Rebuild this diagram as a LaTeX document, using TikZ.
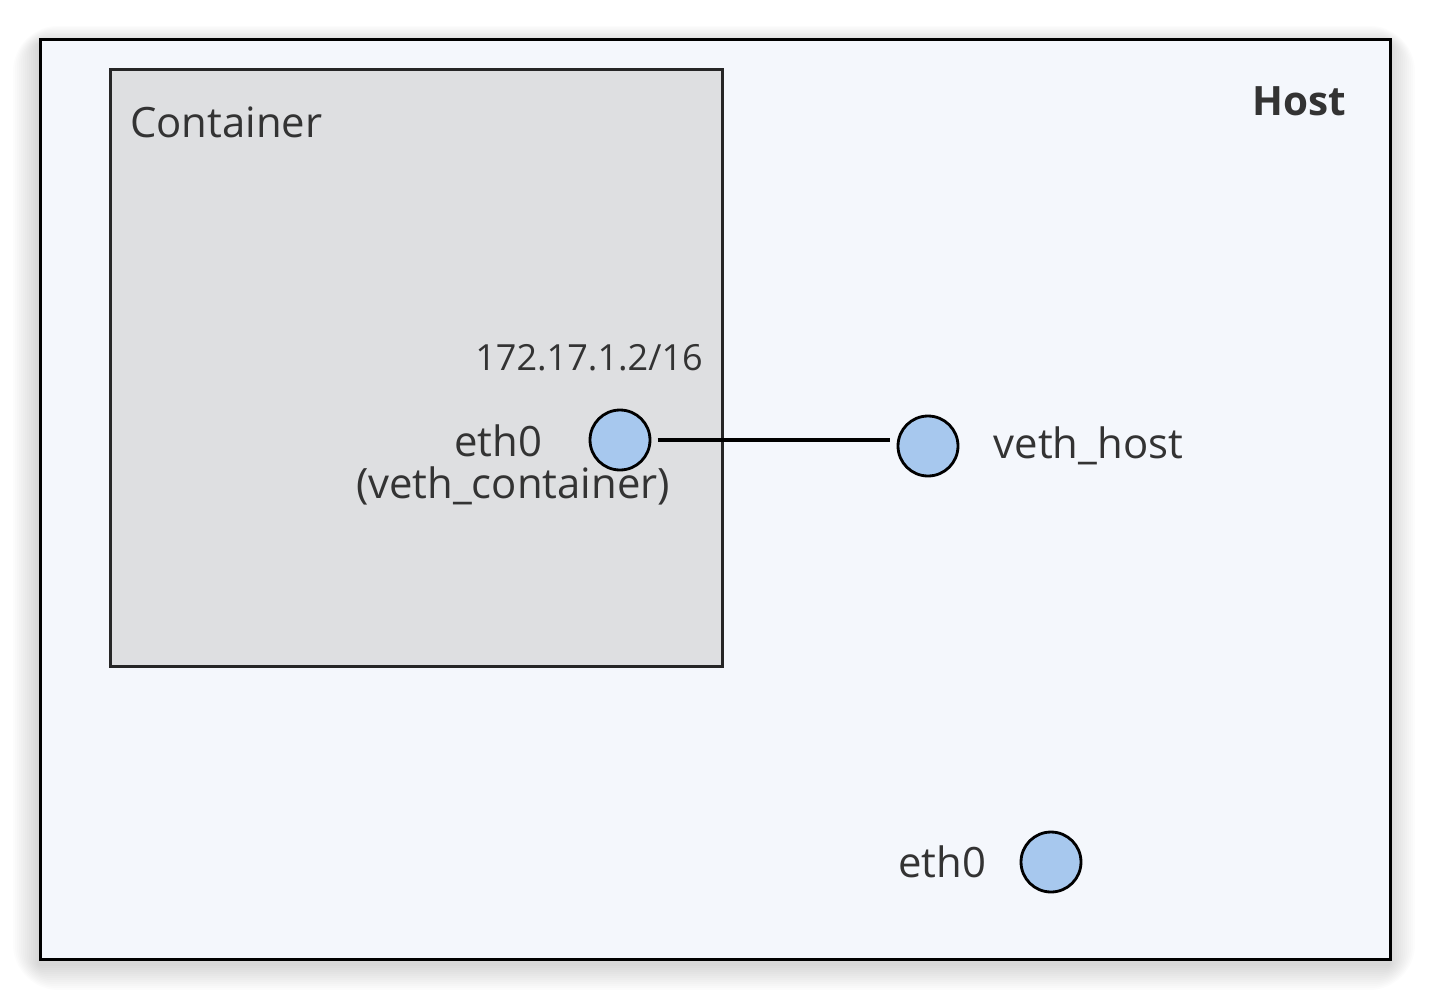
\documentclass[tikz,border=0pt]{standalone}
\usepackage{fontspec}
\setmainfont{Open Sans}
\usepackage{tikz}
\usetikzlibrary{positioning,calc}
\definecolor{cHost}{HTML}{F4F7FC}
\definecolor{cCont}{HTML}{DEDFE1}
\definecolor{cPort}{HTML}{A7C8EE}
\definecolor{cInk}{HTML}{333333}
\tikzset{
  hostbox/.style={draw=black,fill=cHost,line width=1.6pt,anchor=north west,minimum width=27cm,minimum height=18.4cm,inner sep=0pt},
  contbox/.style={draw=black!85,fill=cCont,line width=1.5pt,anchor=north west,minimum width=12.24cm,minimum height=11.94cm,inner sep=0pt},
  port/.style={circle,draw=black,fill=cPort,line width=1.6pt,minimum size=1.2cm,inner sep=0pt},
  link/.style={line width=2.2pt,shorten <=3.5pt,shorten >=3.5pt},
  lbl/.style={font=\fontsize{23.8}{28}\selectfont,text=cInk,inner sep=0pt,align=center},
  title/.style={font=\fontsize{23.8}{28}\selectfont,text=cInk,inner sep=0pt},
}
\begin{document}
\begin{tikzpicture}[x=0.02cm,y=-0.02cm]
  \fill[white] (0,0) rectangle (1430,998);
  % soft shadow round the host frame
  \coordinate (hnw) at (39,38);
  \coordinate (hse) at (1389,958);
  \foreach \s in {2,4,...,26}
    \fill[black,opacity=0.012,rounded corners=\s] ($(hnw)+(-\s,-0.7*\s+6)$) rectangle ($(hse)+(\s,\s+6)$);
  \node[hostbox] (host) at (hnw) {};
  \node[title,font=\fontsize{23}{27}\selectfont\bfseries,anchor=east] (hostlbl) at (1346,101) {Host};
  % container
  \node[contbox] (cont) at (109,68) {};
  \node[title,anchor=west] (contlbl) at (130,122) {Container};
  % ports
  \node[port] (ethc) at (620,440) {};
  \node[port] (vhost) at (928,446) {};
  \node[port] (eth0) at (1051,862) {};
  \draw[link] (ethc.east) -- (ethc.east -| vhost.west);
  % labels
  \node[lbl,font=\fontsize{20.5}{24}\selectfont,anchor=east] (ip) at (703,358) {172.17.1.2/16};
  \node[lbl] (ethclbl) at (498,441) {eth0};
  \node[lbl] (vclbl) at (513,486) {(veth\_container)};
  \node[lbl,right=0.68cm of vhost] (vhlbl) {veth\_host};
  \node[lbl,left=0.66cm of eth0] (eth0lbl) {eth0};
\end{tikzpicture}
\end{document}
